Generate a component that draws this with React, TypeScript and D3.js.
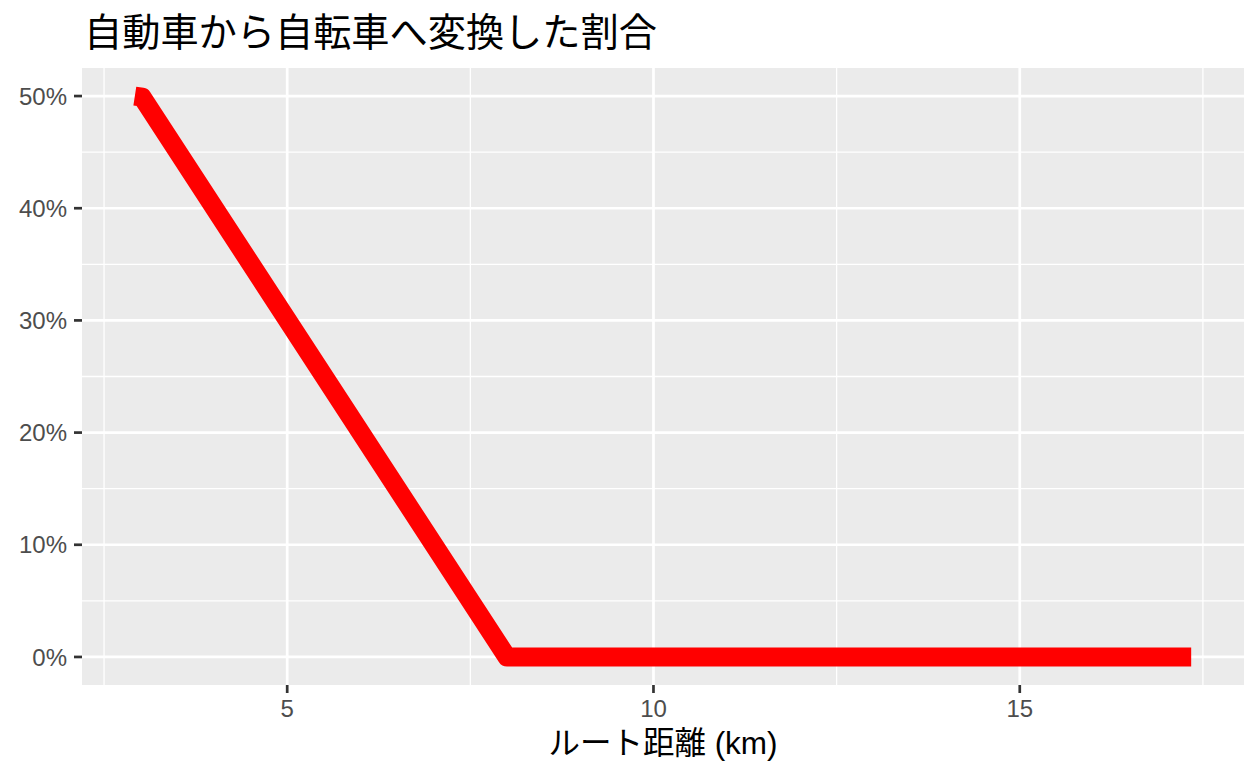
import * as d3 from "d3";

// route distance (km) and share of car trips switched to bicycle
const distanceKm = [2.92, 3.02, 8.0, 8.2, 17.34];
const shareSwitched = [0.5, 0.499, 0.0, 0.0, 0.0];

const xTicks = [5, 10, 15];
const xMinor = [2.5, 7.5, 12.5, 17.5];
const yTicks = [0, 0.1, 0.2, 0.3, 0.4, 0.5];
const yMinor = [0.05, 0.15, 0.25, 0.35, 0.45];

const titleText = "自動車から自転車へ変換した割合";
const xTitle = "ルート距離 (km)";

const W = 1260;
const H = 778;
const left = 82, right = 1244, top = 68, bottom = 685;

export default function App() {
  const xr = d3.extent(distanceKm) as [number, number];
  const xPad = (xr[1] - xr[0]) * 0.05;
  const x = d3.scaleLinear().domain([xr[0] - xPad, xr[1] + xPad]).range([left, right]);

  const yr = [0, 0.5];
  const yPad = (yr[1] - yr[0]) * 0.05;
  const y = d3.scaleLinear().domain([yr[0] - yPad, yr[1] + yPad]).range([bottom, top]);

  const pts: [number, number][] = distanceKm.map((d, i) => [d, shareSwitched[i]]);
  const line = d3.line<[number, number]>().x(d => x(d[0])).y(d => y(d[1]));
  const pct = d3.format(".0%");

  const font = "'Liberation Sans', 'Noto Sans CJK JP', sans-serif";

  return (
    <svg width={W} height={H} style={{ position: "absolute", left: 0, top: 0, background: "#fff" }} fontFamily={font}>
      <text x={84} y={46} fontSize={38.2} fill="#000" fontFamily="'Noto Sans CJK JP', sans-serif">{titleText}</text>

      <rect x={left} y={top} width={right - left} height={bottom - top} fill="#EBEBEB" />
      {xMinor.map(v => (
        <line key={"xm" + v} x1={x(v)} x2={x(v)} y1={top} y2={bottom} stroke="#fff" strokeWidth={1.3} />
      ))}
      {yMinor.map(v => (
        <line key={"ym" + v} x1={left} x2={right} y1={y(v)} y2={y(v)} stroke="#fff" strokeWidth={1.3} />
      ))}
      {xTicks.map(v => (
        <line key={"xM" + v} x1={x(v)} x2={x(v)} y1={top} y2={bottom} stroke="#fff" strokeWidth={2.7} />
      ))}
      {yTicks.map(v => (
        <line key={"yM" + v} x1={left} x2={right} y1={y(v)} y2={y(v)} stroke="#fff" strokeWidth={2.7} />
      ))}

      <path d={line(pts) ?? ""} fill="none" stroke="#FF0000" strokeWidth={19} strokeLinejoin="round" strokeLinecap="butt" />

      {yTicks.map(v => (
        <g key={"yt" + v}>
          <line x1={left - 8} x2={left} y1={y(v)} y2={y(v)} stroke="#333" strokeWidth={2.7} />
          <text x={left - 15} y={y(v)} dy="0.36em" textAnchor="end" fontSize={24} fill="#4D4D4D">{pct(v)}</text>
        </g>
      ))}
      {xTicks.map(v => (
        <g key={"xt" + v}>
          <line x1={x(v)} x2={x(v)} y1={bottom} y2={bottom + 8} stroke="#333" strokeWidth={2.7} />
          <text x={x(v)} y={717} textAnchor="middle" fontSize={24} fill="#4D4D4D">{v}</text>
        </g>
      ))}

      <text x={(left + right) / 2} y={754} textAnchor="middle" fontSize={31.5} fill="#000">{xTitle}</text>
    </svg>
  );
}
